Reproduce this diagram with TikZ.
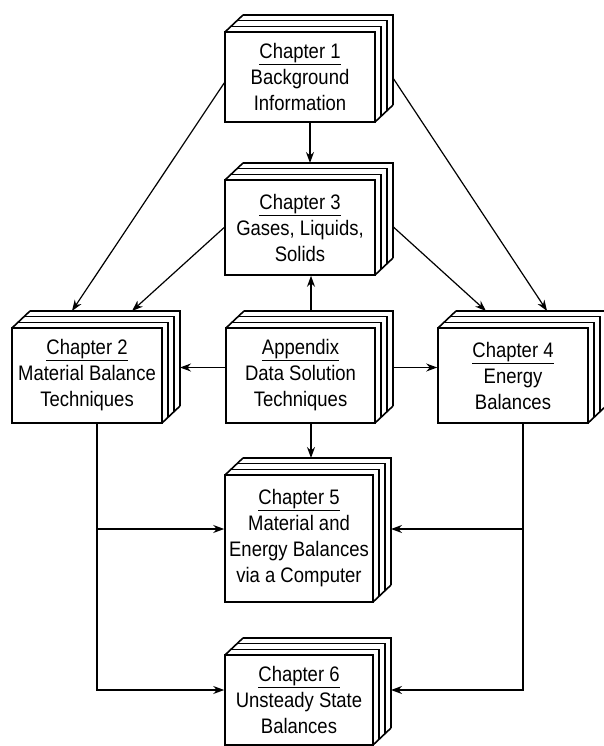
\documentclass[tikz,border=0pt]{standalone}
\usepackage{fontspec}
\setmainfont{Liberation Sans}[FakeStretch=0.88]
\usetikzlibrary{arrows.meta,calc}
\tikzset{
  boxline/.style={line width=1.6pt, line join=miter},
  pageline/.style={line width=1.1pt},
  frontbox/.style={draw, boxline, fill=white, align=center, inner sep=2pt,
     font=\fontsize{21}{26}\selectfont},
  conn/.style={line width=1.2pt},
  arr/.style={conn, -{Stealth[length=11pt,width=8pt]}},
}
% #1 name, #2 left, #3 top, #4 width, #5 height, #6 text
\newcommand\bookstack[6]{%
  \pgfmathsetmacro\bL{#2}\pgfmathsetmacro\bT{#3}%
  \pgfmathsetmacro\bR{#2+#4}\pgfmathsetmacro\bB{#3+#5}%
  \fill[white] (\bL,\bT) -- (\bL+18,\bT-17) -- (\bR+18,\bT-17) -- (\bR+18,\bB-17)
     -- (\bR,\bB) -- (\bL,\bB) -- cycle;
  \draw[boxline] (\bL+18,\bT-17) -- (\bR+18,\bT-17) -- (\bR+18,\bB-17);
  \foreach \k in {1,2}{%
    \draw[pageline] ({\bL+6*\k},{\bT-5.67*\k}) -- ({\bR+6*\k},{\bT-5.67*\k})
       -- ({\bR+6*\k},{\bB-5.67*\k});}
  \draw[boxline] (\bL,\bT) -- (\bL+18,\bT-17);
  \draw[boxline] (\bR,\bB) -- (\bR+18,\bB-17);
  \node[frontbox, minimum width=#4pt, minimum height=#5pt] (#1)
     at ({\bL+#4/2},{\bT+#5/2}) {#6};
  \coordinate (#1-bnw) at (\bL+18,\bT-17);
  \coordinate (#1-bne) at (\bR+18,\bT-17);
  \coordinate (#1-bse) at (\bR+18,\bB-17);
  \coordinate (#1-mid) at ({\bL+85},{\bT+#5/2});
}
\begin{document}
\begin{tikzpicture}[x=1pt,y=-1pt]
\useasboundingbox (0,0) rectangle (603,746);
\fill[white] (0,0) rectangle (603,746);

\bookstack{ch1}{225}{32}{150}{90}{\underline{Chapter 1}\\Background\\Information}
\bookstack{ch3}{225}{180}{150}{95}{\underline{Chapter 3}\\Gases, Liquids,\\Solids}
\bookstack{ch2}{12}{328}{150}{95}{\underline{Chapter 2}\\Material Balance\\Techniques}
\bookstack{app}{226}{328}{149}{95}{\underline{Appendix}\\Data Solution\\Techniques}
\bookstack{ch4}{438}{328}{150}{95}{\underline{Chapter 4}\\Energy\\Balances}
\bookstack{ch5}{225}{475}{148}{127}{\underline{Chapter 5}\\Material and\\Energy Balances\\via a Computer}
\bookstack{ch6}{225}{655}{148}{90}{\underline{Chapter 6}\\Unsteady State\\Balances}

\coordinate (c5l) at ([yshift=9.5pt]ch5.west);
\coordinate (c6l) at ([yshift=10pt]ch6.west);
\coordinate (appl) at ([yshift=8pt]app.west);

% Chapter 1 outputs
\draw[arr] (ch1.south -| ch1-mid) -- (ch3-bnw -| ch1-mid);
\draw[arr] ([yshift=-6pt]ch1.west) -- ($(ch2-bnw)!0.28!(ch2-bne)$);
\draw[arr] ($(ch1-bne)!0.7!(ch1-bse)$) -- ($(ch4-bnw)!0.607!(ch4-bne)$);
% Chapter 3 outputs
\draw[arr] (ch3.west) -- ($(ch2-bnw)!0.68!(ch2-bne)$);
\draw[arr] ($(ch3-bne)!0.67!(ch3-bse)$) -- ($(ch4-bnw)!0.2!(ch4-bne)$);
% Appendix outputs
\draw[arr] (app-bnw -| app-mid) -- (ch3.south -| app-mid);
\draw[arr] (appl) -- (appl -| ch2-bne);
\draw[arr] (appl -| app-bne) -- (appl -| ch4.west);
\draw[arr] (app.south -| app-mid) -- (ch5-bnw -| app-mid);
% Chapter 2 and 4 down to 5 and 6
\draw[arr] (ch2.south -| ch2-mid) |- (c6l);
\draw[arr] (ch2-mid |- c5l) -- (c5l);
\draw[arr] (ch4.south -| ch4-mid) |- (c6l -| ch6-bne);
\draw[arr] (ch4-mid |- c5l) -- (c5l -| ch5-bne);
\end{tikzpicture}
\end{document}
